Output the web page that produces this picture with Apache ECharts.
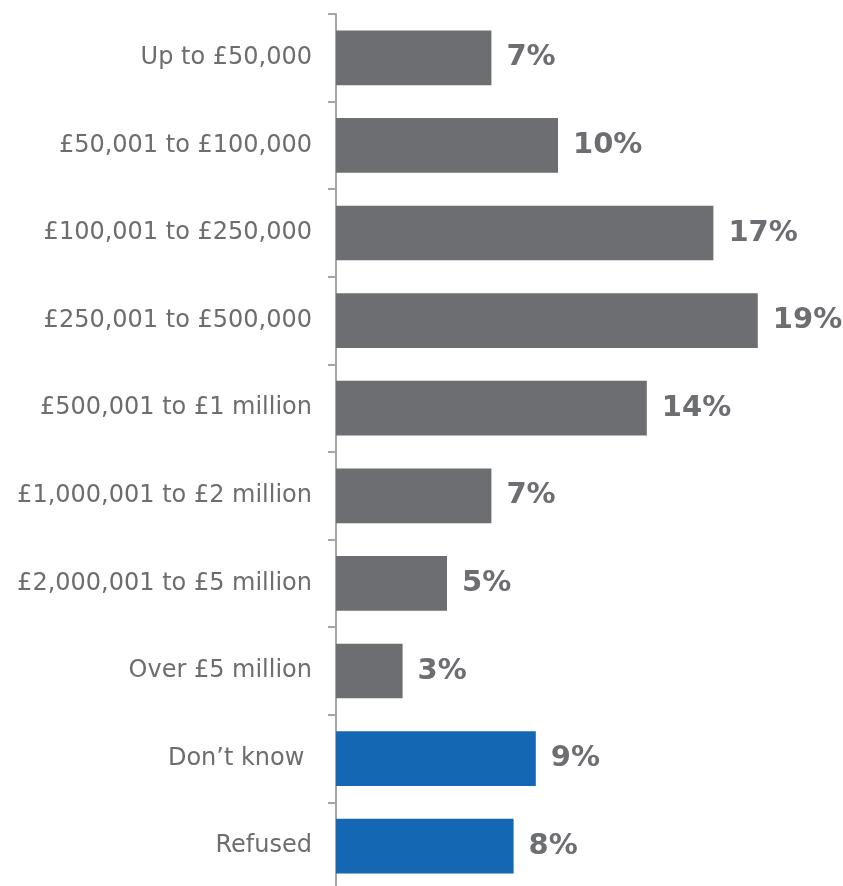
<!DOCTYPE html>
<html>
<head>
<meta charset="utf-8">
<script src="https://cdn.jsdelivr.net/npm/echarts@6/dist/echarts.min.js"></script>
<style>
  html, body { margin: 0; padding: 0; background: #ffffff; overflow: hidden; }
  /* the category axis runs on past the bottom edge of the page */
  #chart { width: 843px; height: 896px; }
</style>
</head>
<body>
<div id="chart"></div>
<script>
// Business turnover bands, share of respondents (%)
const categories = [
  'Up to £50,000',
  '£50,001 to £100,000',
  '£100,001 to £250,000',
  '£250,001 to £500,000',
  '£500,001 to £1 million',
  '£1,000,001 to £2 million',
  '£2,000,001 to £5 million',
  'Over £5 million',
  'Don’t know ',
  'Refused'
];
const shares = [7, 10, 17, 19, 14, 7, 5, 3, 9, 8];

// Answers that are not a turnover band get the highlight colour
const nonAnswers = ['Don’t know ', 'Refused'];

const GREY = '#6d6e71';
const BLUE = '#1467b2';
const AXIS = '#a6a6a6';
const FONT = '"DejaVu Sans", Verdana, sans-serif';

const chart = echarts.init(document.getElementById('chart'), null, { renderer: 'canvas' });

chart.setOption({
  animation: false,
  backgroundColor: '#ffffff',
  grid: { left: 336, top: 14, width: 444, height: 876 },
  xAxis: {
    type: 'value',
    min: 0,
    max: 20,
    show: false
  },
  yAxis: {
    type: 'category',
    inverse: true,
    data: categories,
    axisLine: { show: true, lineStyle: { color: AXIS, width: 2 } },
    axisTick: { show: true, length: 8, lineStyle: { color: AXIS, width: 2 } },
    axisLabel: {
      margin: 24,
      fontSize: 24,
      color: '#6d6d6d',
      fontFamily: FONT
    },
    splitLine: { show: false }
  },
  series: [{
    type: 'bar',
    data: shares,
    barCategoryGap: '37.6%',
    itemStyle: {
      color: (p) => nonAnswers.includes(categories[p.dataIndex]) ? BLUE : GREY
    },
    label: {
      show: true,
      position: 'right',
      distance: 15,
      formatter: '{c}%',
      fontSize: 29,
      fontWeight: 'bold',
      color: GREY,
      fontFamily: FONT
    }
  }]
});
</script>
</body>
</html>
